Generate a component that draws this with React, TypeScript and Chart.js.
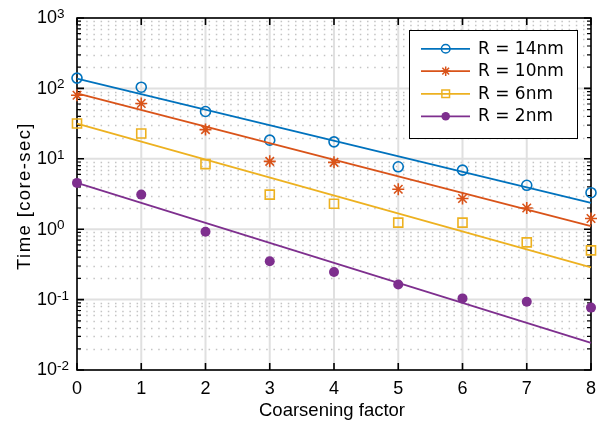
import React, { useEffect, useRef } from 'react';
import { Chart, registerables } from 'chart.js';

Chart.register(...registerables);

// ---- Data ----
const coarseningFactor = [0, 1, 2, 3, 4, 5, 6, 7, 8];
const timeR14 = [140, 104, 47, 18.4, 17.4, 7.7, 6.9, 4.2, 3.3];
const timeR10 = [80, 61, 26, 9.2, 8.9, 3.7, 2.73, 2.0, 1.42];
const timeR6 = [31.7, 22.9, 8.4, 3.1, 2.3, 1.24, 1.24, 0.65, 0.5];
const timeR2 = [4.55, 3.1, 0.92, 0.35, 0.247, 0.164, 0.104, 0.093, 0.077];

// fitted lines (end points)
const fitX = [0, 8];
const fitR14 = [138, 2.36];
const fitR10 = [85, 1.11];
const fitR6 = [31.7, 0.286];
const fitR2 = [4.55, 0.0243];

const seriesLabels = ['R = 14nm', 'R = 10nm', 'R = 6nm', 'R = 2nm'];
const seriesColors = ['#0072BD', '#D95319', '#EDB120', '#7E2F8E'];
const seriesMarkers = ['circle', 'star', 'rect', 'dot'];

const xTickValues = [0, 1, 2, 3, 4, 5, 6, 7, 8];
const yTickExponents = [-2, -1, 0, 1, 2, 3];
const xAxisTitle = 'Coarsening factor';
const yAxisTitle = 'Time [core-sec]';

const TICK_FONT = '"Liberation Sans", Arial, sans-serif';
const LEGEND_FONT = '"DejaVu Sans", sans-serif';

function drawMarker(ctx: CanvasRenderingContext2D, kind: string, x: number, y: number, r: number, color: string, lw: number) {
  ctx.save();
  ctx.strokeStyle = color;
  ctx.fillStyle = color;
  ctx.lineWidth = lw;
  ctx.beginPath();
  if (kind === 'circle') {
    ctx.arc(x, y, r, 0, Math.PI * 2);
    ctx.stroke();
  } else if (kind === 'dot') {
    ctx.arc(x, y, r, 0, Math.PI * 2);
    ctx.fill();
  } else if (kind === 'rect') {
    const s = r * Math.SQRT1_2;
    ctx.rect(x - s, y - s, 2 * s, 2 * s);
    ctx.stroke();
  } else if (kind === 'star') {
    const d = r * Math.SQRT1_2;
    ctx.moveTo(x - r, y); ctx.lineTo(x + r, y);
    ctx.moveTo(x, y - r); ctx.lineTo(x, y + r);
    ctx.moveTo(x - d, y - d); ctx.lineTo(x + d, y + d);
    ctx.moveTo(x - d, y + d); ctx.lineTo(x + d, y - d);
    ctx.stroke();
  }
  ctx.restore();
}

const axesPlugin = {
  id: 'matlabAxes',
  beforeDatasetsDraw(chart: any) {
    const { ctx, chartArea: a, scales } = chart;
    const xs = scales.x;
    const ys = scales.y;
    ctx.save();
    // minor dotted horizontal grid
    ctx.strokeStyle = '#c4c4c4';
    ctx.lineWidth = 1.5;
    ctx.setLineDash([1.5, 5.7]);
    for (let e = -2; e < 3; e++) {
      for (let m = 2; m <= 9; m++) {
        const y = Math.round(ys.getPixelForValue(m * Math.pow(10, e))) + 0.5;
        ctx.beginPath();
        ctx.moveTo(a.left + 2, y);
        ctx.lineTo(a.right, y);
        ctx.stroke();
      }
    }
    ctx.setLineDash([]);
    // major grid
    ctx.strokeStyle = '#e0e0e0';
    ctx.lineWidth = 2;
    for (const e of yTickExponents) {
      const y = ys.getPixelForValue(Math.pow(10, e));
      ctx.beginPath();
      ctx.moveTo(a.left, y);
      ctx.lineTo(a.right, y);
      ctx.stroke();
    }
    for (const v of xTickValues) {
      const x = xs.getPixelForValue(v);
      ctx.beginPath();
      ctx.moveTo(x, a.top);
      ctx.lineTo(x, a.bottom);
      ctx.stroke();
    }
    // box
    ctx.strokeStyle = '#000';
    ctx.lineWidth = 1.6;
    ctx.strokeRect(a.left, a.top, a.right - a.left, a.bottom - a.top);
    // ticks
    ctx.lineWidth = 1.6;
    ctx.beginPath();
    for (const v of xTickValues) {
      const x = xs.getPixelForValue(v);
      ctx.moveTo(x, a.bottom); ctx.lineTo(x, a.bottom - 7);
      ctx.moveTo(x, a.top); ctx.lineTo(x, a.top + 7);
    }
    for (const e of yTickExponents) {
      const y = ys.getPixelForValue(Math.pow(10, e));
      ctx.moveTo(a.left, y); ctx.lineTo(a.left + 7, y);
      ctx.moveTo(a.right, y); ctx.lineTo(a.right - 7, y);
    }
    ctx.stroke();
    ctx.lineWidth = 1.2;
    ctx.beginPath();
    for (let e = -2; e < 3; e++) {
      for (let m = 2; m <= 9; m++) {
        const y = ys.getPixelForValue(m * Math.pow(10, e));
        ctx.moveTo(a.left, y); ctx.lineTo(a.left + 4, y);
        ctx.moveTo(a.right, y); ctx.lineTo(a.right - 4, y);
      }
    }
    ctx.stroke();

    // tick labels
    ctx.fillStyle = '#000';
    ctx.font = `18px ${TICK_FONT}`;
    ctx.textAlign = 'center';
    ctx.textBaseline = 'middle';
    for (const v of xTickValues) {
      ctx.fillText(String(v), xs.getPixelForValue(v), a.bottom + 19);
    }
    for (const e of yTickExponents) {
      const y = ys.getPixelForValue(Math.pow(10, e));
      ctx.font = `18px ${TICK_FONT}`;
      ctx.textAlign = 'right';
      ctx.textBaseline = 'middle';
      ctx.fillText('10', a.left - 20, y + 0.5);
      ctx.font = `13.5px ${TICK_FONT}`;
      ctx.textAlign = 'left';
      ctx.textBaseline = 'alphabetic';
      ctx.fillText(String(e), a.left - 20, y);
    }
    // axis titles
    ctx.font = `18.5px ${TICK_FONT}`;
    ctx.textAlign = 'center';
    ctx.textBaseline = 'middle';
    ctx.fillText(xAxisTitle, 332, a.bottom + 41);
    ctx.save();
    ctx.translate(25, 196);
    ctx.rotate(-Math.PI / 2);
    (ctx as any).letterSpacing = '1.4px';
    ctx.fillText(yAxisTitle, 0, 0);
    ctx.restore();
    ctx.restore();
  },
  afterDatasetsDraw(chart: any) {
    const { ctx } = chart;
    ctx.save();
    const bx = 409.5, by = 30.5, bw = 168, bh = 108;
    ctx.fillStyle = '#fff';
    ctx.fillRect(bx, by, bw, bh);
    ctx.strokeStyle = '#000';
    ctx.lineWidth = 1;
    ctx.strokeRect(bx, by, bw, bh);
    const rowY = [48.8, 71.2, 93.8, 116.3];
    ctx.font = `17px ${LEGEND_FONT}`;
    ctx.textAlign = 'left';
    ctx.textBaseline = 'middle';
    seriesLabels.forEach((label, i) => {
      const y = rowY[i];
      ctx.strokeStyle = seriesColors[i];
      ctx.lineWidth = 1.8;
      ctx.beginPath();
      ctx.moveTo(421, y);
      ctx.lineTo(470, y);
      ctx.stroke();
      const kind = seriesMarkers[i];
      const r = kind === 'rect' ? 5.4 : kind === 'star' ? 4.8 : 4.3;
      drawMarker(ctx, kind, 445.7, y, r, seriesColors[i], 1.5);
      ctx.fillStyle = '#000';
      ctx.fillText(label, 478, y + 0.5);
    });
    ctx.restore();
  },
};

function pointsOf(xs: number[], ys: number[]) {
  return xs.map((x, i) => ({ x, y: ys[i] }));
}

export default function App() {
  const canvasRef = useRef<HTMLCanvasElement | null>(null);

  useEffect(() => {
    const canvas = canvasRef.current;
    if (!canvas) return;
    const seriesValues = [timeR14, timeR10, timeR6, timeR2];
    const fitValues = [fitR14, fitR10, fitR6, fitR2];
    const datasets: any[] = [];
    seriesValues.forEach((vals, i) => {
      datasets.push({
        type: 'line',
        label: seriesLabels[i] + ' fit',
        data: pointsOf(fitX, fitValues[i]),
        borderColor: seriesColors[i],
        borderWidth: 1.8,
        pointRadius: 0,
        showLine: true,
        fill: false,
        tension: 0,
        clip: false,
      });
    });
    seriesValues.forEach((vals, i) => {
      const kind = seriesMarkers[i];
      datasets.push({
        type: 'scatter',
        label: seriesLabels[i],
        data: pointsOf(coarseningFactor, vals),
        borderColor: seriesColors[i],
        backgroundColor: kind === 'dot' ? seriesColors[i] : 'rgba(0,0,0,0)',
        pointStyle: kind === 'dot' ? 'circle' : kind,
        pointRadius: kind === 'rect' ? 6.4 : kind === 'star' ? 6 : 5,
        pointBorderWidth: kind === 'dot' ? 0 : 1.6,
        showLine: false,
        clip: false,
      });
    });

    const chart = new Chart(canvas, {
      type: 'scatter',
      data: { datasets },
      options: {
        responsive: false,
        animation: false,
        events: [],
        layout: { padding: { left: 77, right: 16, top: 18, bottom: 55 } },
        scales: {
          x: { type: 'linear', min: 0, max: 8, display: false },
          y: { type: 'logarithmic', min: 0.01, max: 1000, display: false },
        },
        plugins: {
          legend: { display: false },
          tooltip: { enabled: false },
        },
      },
      plugins: [axesPlugin],
    });
    return () => chart.destroy();
  }, []);

  return (
    <div style={{ position: 'fixed', left: 0, top: 0, width: 607, height: 425, background: '#fff' }}>
      <canvas ref={canvasRef} width={607} height={425} style={{ display: 'block' }} />
    </div>
  );
}
